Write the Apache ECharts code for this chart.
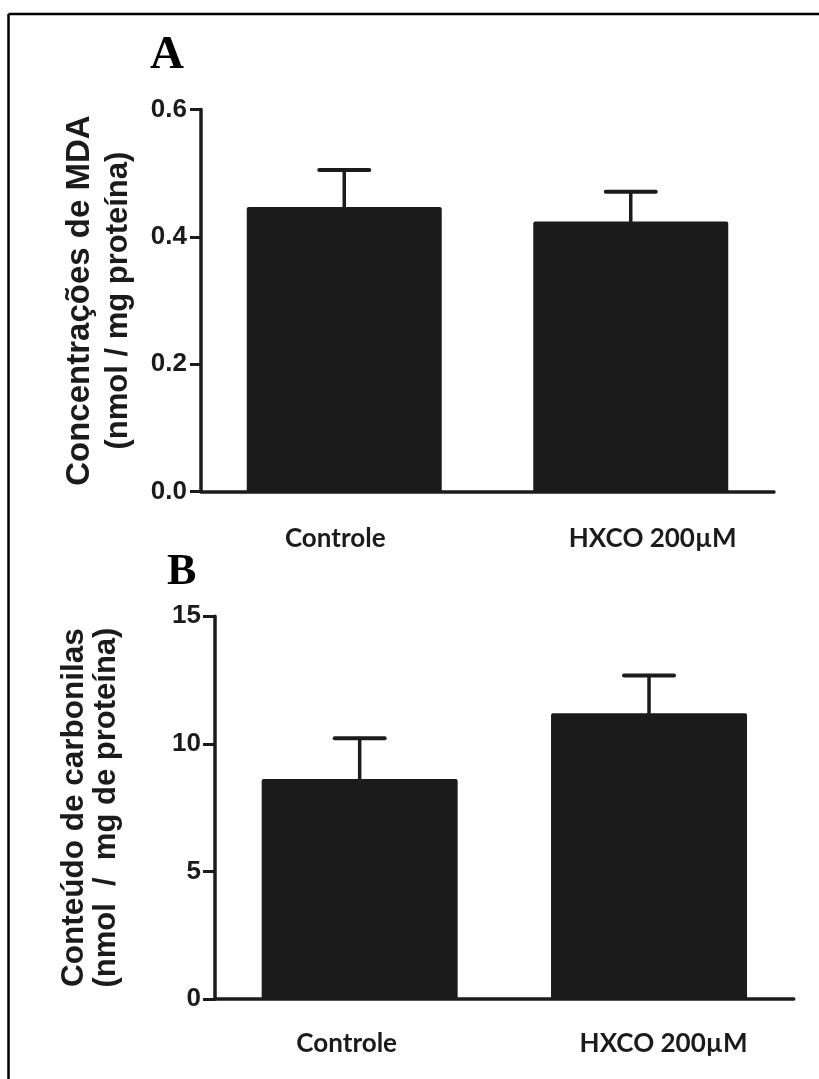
<!DOCTYPE html>
<html>
<head>
<meta charset="utf-8">
<script src="https://cdn.jsdelivr.net/npm/echarts@6/dist/echarts.min.js"></script>
<style>
html,body{margin:0;padding:0;background:#ffffff;}
#chart{width:819px;height:1079px;}
</style>
</head>
<body>
<div id="chart"></div>
<script>
// ---- data ----
const categories = ['Controle', 'HXCO 200µM'];
const mdaMean = [0.447, 0.424];
const mdaErr = [0.058, 0.047];
const carbMean = [8.62, 11.20];
const carbErr = [1.60, 1.48];
const mdaTicks = [0, 0.2, 0.4, 0.6];
const carbTicks = [0, 5, 10, 15];
const panelLabels = ['A', 'B'];
const yNameA = ['Concentrações de MDA', '(nmol / mg proteína)'];
const yNameB = ['Conteúdo de carbonilas', '(nmol  /  mg de proteína)'];

// ---- styles ----
const INK = '#1b1b1b';
const sans = '"Liberation Sans", Arial, sans-serif';

function errData(means, errs) {
  return means.map((m, i) => [i, m, errs[i]]);
}
function errRender(params, api) {
  const i = api.value(0), m = api.value(1), e = api.value(2);
  const base = api.coord([i, m]);
  const top = api.coord([i, m + e]);
  const half = 25;
  return {
    type: 'group',
    children: [
      { type: 'line', shape: { x1: base[0], y1: base[1], x2: top[0], y2: top[1] }, style: { stroke: INK, lineWidth: 3.5, lineCap: 'round' } },
      { type: 'line', shape: { x1: top[0] - half, y1: top[1], x2: top[0] + half, y2: top[1] }, style: { stroke: INK, lineWidth: 4, lineCap: 'round' } }
    ]
  };
}
function catAxis(gridIndex, margin, shifts) {
  return {
    type: 'category', gridIndex: gridIndex, data: categories,
    axisLine: { lineStyle: { color: INK, width: 3.5, cap: 'round' } },
    axisTick: { alignWithLabel: true, length: 14, lineStyle: { color: INK, width: 3 } },
    axisLabel: {
      margin: margin,
      formatter: function (v, idx) { return '{c' + idx + '|' + v + '}'; },
      rich: {
        c0: { fontFamily: 'Lato', fontWeight: 'bold', fontSize: 26, color: INK, padding: shifts[0] },
        c1: { fontFamily: 'Lato', fontWeight: 'bold', fontSize: 26, color: INK, padding: shifts[1] }
      }
    },
    splitLine: { show: false }
  };
}
function valAxis(gridIndex, ticks, nameLines, gap, sizes, lh, dec, tickLen) {
  const step = ticks[1] - ticks[0];
  return {
    type: 'value', gridIndex: gridIndex,
    min: ticks[0], max: ticks[ticks.length - 1], interval: step,
    name: '{l1|' + nameLines[0] + '}\n{l2|' + nameLines[1] + '}',
    nameLocation: 'middle', nameGap: gap,
    nameTextStyle: {
      fontFamily: sans, fontWeight: 'bold', fontSize: sizes[1], lineHeight: lh, color: INK,
      rich: {
        l1: { fontFamily: sans, fontWeight: 'bold', fontSize: sizes[0], lineHeight: lh, color: INK },
        l2: { fontFamily: sans, fontWeight: 'bold', fontSize: sizes[1], lineHeight: lh, color: INK }
      }
    },
    axisLine: { show: true, lineStyle: { color: INK, width: 3.5 } },
    axisTick: { show: true, length: tickLen, lineStyle: { color: INK, width: 3 } },
    axisLabel: {
      margin: 14, fontFamily: sans, fontWeight: 'bold', fontSize: 26, color: INK,
      formatter: function (v) { return v.toFixed(dec); }
    },
    splitLine: { show: false }
  };
}

const chart = echarts.init(document.getElementById('chart'), null, { renderer: 'canvas' });
chart.setOption({
  backgroundColor: '#ffffff',
  animation: false,
  title: [
    { text: panelLabels[0], left: 145, top: 27, textStyle: { fontFamily: '"Liberation Serif", "Times New Roman", serif', fontWeight: 'bold', fontSize: 47, color: '#000' } },
    { text: panelLabels[1], left: 162, top: 546, textStyle: { fontFamily: '"Liberation Serif", "Times New Roman", serif', fontWeight: 'bold', fontSize: 44, color: '#000' } }
  ],
  graphic: [
    { type: 'line', shape: { x1: 8.5, y1: 14, x2: 830, y2: 14 }, style: { stroke: '#000', lineWidth: 2.5 } },
    { type: 'line', shape: { x1: 8.5, y1: 14, x2: 8.5, y2: 1090 }, style: { stroke: '#000', lineWidth: 2.5 } }
  ],
  grid: [
    { left: 201, right: 45, top: 109.5, bottom: 1079 - 491.7 },
    { left: 215, right: 25.3, top: 616.3, bottom: 1079 - 998.9 }
  ],
  xAxis: [
    catAxis(0, 34, [[0, 18, 0, 0], [0, 0, 0, 44]]),
    catAxis(1, 32, [[0, 26, 0, 0], [0, 0, 0, 29]])
  ],
  yAxis: [
    valAxis(0, mdaTicks, yNameA, 63, [33, 31], 39, 1, 11),
    valAxis(1, carbTicks, yNameB, 93, [31.5, 31], 32, 0, 12)
  ],
  series: [
    { type: 'bar', xAxisIndex: 0, yAxisIndex: 0, data: mdaMean, barWidth: 195,
      itemStyle: { color: INK, borderRadius: [2, 2, 0, 0] }, z: 2 },
    { type: 'custom', xAxisIndex: 0, yAxisIndex: 0, data: errData(mdaMean, mdaErr), renderItem: errRender, z: 3 },
    { type: 'bar', xAxisIndex: 1, yAxisIndex: 1, data: carbMean, barWidth: 196,
      itemStyle: { color: INK, borderRadius: [2, 2, 0, 0] }, z: 2 },
    { type: 'custom', xAxisIndex: 1, yAxisIndex: 1, data: errData(carbMean, carbErr), renderItem: errRender, z: 3 }
  ]
});
</script>
</body>
</html>
